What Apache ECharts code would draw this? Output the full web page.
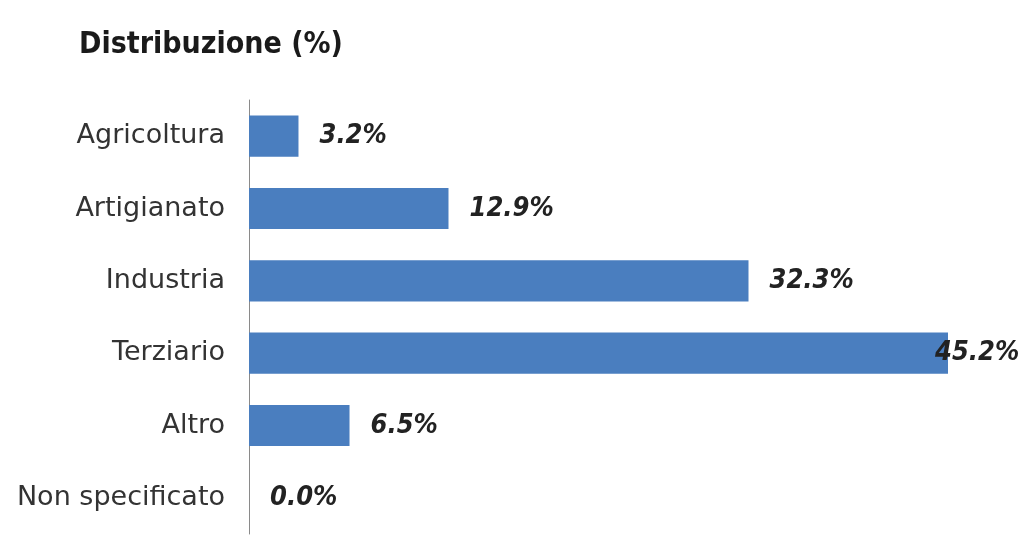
<!DOCTYPE html>
<html>
<head>
<meta charset="utf-8">
<script src="https://cdn.jsdelivr.net/npm/echarts@6/dist/echarts.min.js"></script>
<style>
  html, body { margin: 0; padding: 0; background: #fff; }
  #main { width: 1020px; height: 537px; }
</style>
</head>
<body>
<div id="main"></div>
<script>
// categorie e valori (%)
const categories = ["Agricoltura", "Artigianato", "Industria", "Terziario", "Altro", "Non specificato"];
const values = [3.2, 12.9, 32.3, 45.2, 6.5, 0.0];

const chart = echarts.init(document.getElementById("main"));

const seriesData = values.map(function (v) {
  const item = { value: v };
  // l'etichetta del valore massimo si sovrappone alla fine della barra
  if (v === Math.max.apply(null, values)) {
    item.label = { distance: -13 };
  }
  return item;
});

const option = {
  animation: false,
  title: {
    text: "Distribuzione (%)",
    left: 74,
    top: 25,
    textStyle: {
      fontFamily: "DejaVu Sans Condensed, sans-serif",
      fontSize: 30,
      fontWeight: "bold",
      color: "#1a1a1a"
    }
  },
  grid: {
    left: 249,
    right: 72,
    top: 100,
    height: 434,
    containLabel: false
  },
  xAxis: {
    type: "value",
    min: 0,
    max: 45.2,
    show: false
  },
  yAxis: {
    type: "category",
    inverse: true,
    data: categories,
    axisTick: { show: false },
    axisLine: {
      lineStyle: { color: "#8a8a8a", width: 1 }
    },
    axisLabel: {
      margin: 24,
      color: "#333",
      fontSize: 27,
      fontFamily: "DejaVu Sans, sans-serif"
    }
  },
  series: [
    {
      type: "bar",
      data: seriesData,
      barWidth: "57%",
      itemStyle: { color: "#4A7EBF" },
      label: {
        show: true,
        position: "right",
        distance: 21,
        formatter: function (p) {
          return p.value.toFixed(1) + "%";
        },
        color: "#222",
        fontSize: 27,
        fontStyle: "italic",
        fontWeight: "bold",
        fontFamily: "DejaVu Sans Condensed, sans-serif"
      }
    }
  ]
};

chart.setOption(option);
</script>
</body>
</html>
